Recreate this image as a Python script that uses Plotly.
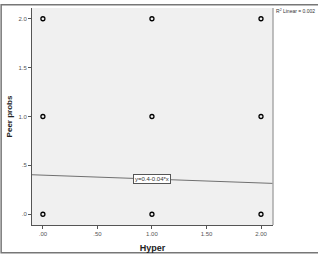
import plotly.graph_objects as go

hyper = [0, 1, 2, 0, 1, 2, 0, 1, 2]
peer_probs = [0, 0, 0, 1, 1, 1, 2, 2, 2]
fit_x = [-0.1, 2.11]
intercept = 0.4
slope = -0.04
x_ticks = [0, 0.5, 1, 1.5, 2]
x_tick_labels = [".00", ".50", "1.00", "1.50", "2.00"]
y_ticks = [0, 0.5, 1, 1.5, 2]
y_tick_labels = [".0", ".5", "1.0", "1.5", "2.0"]

fit_y = [intercept + slope * x for x in fit_x]

fig = go.Figure()
fig.add_trace(go.Scatter(x=fit_x, y=fit_y, mode="lines",
                         line=dict(color="#707070", width=1), hoverinfo="skip"))
fig.add_trace(go.Scatter(x=hyper, y=peer_probs, mode="markers",
                         marker=dict(symbol="circle-open", size=4, color="black",
                                     line=dict(width=1.3, color="black"))))

fig.add_annotation(x=1, y=intercept + slope * 1, text="y=0.4-0.04*x", showarrow=False,
                   font=dict(family="Liberation Sans", size=6, color="#333"),
                   bgcolor="white", bordercolor="#555", borderwidth=1, borderpad=1)
fig.add_annotation(xref="paper", yref="paper", x=1.003, y=0.985, xanchor="left", yanchor="middle",
                   text="R<sup>2</sup> Linear = 0.002", showarrow=False,
                   font=dict(family="Liberation Sans", size=5, color="#333"))

fig.add_shape(type="rect", xref="paper", yref="paper", x0=-0.128, x1=1.19, y0=-0.128, y1=1.015,
              line=dict(color="#777", width=1.5), layer="below")

fig.update_layout(
    width=318, height=260,
    margin=dict(l=32, r=45, t=8, b=31),
    paper_bgcolor="white", plot_bgcolor="#f0f0f0",
    showlegend=False,
    font=dict(family="Liberation Sans", size=6, color="#555"),
)
fig.update_xaxes(range=[-0.1, 2.11], tickvals=x_ticks, ticktext=x_tick_labels,
                 showgrid=False, zeroline=False, showline=True, linecolor="#555", linewidth=1,
                 mirror=False, ticks="outside", ticklen=3, tickcolor="#555",
                 title=dict(text="<b>Hyper</b>", font=dict(size=9, color="#222"), standoff=8))
fig.update_yaxes(range=[-0.11, 2.11], tickvals=y_ticks, ticktext=y_tick_labels,
                 showgrid=False, zeroline=False, showline=True, linecolor="#555", linewidth=1,
                 ticks="outside", ticklen=3, tickcolor="#555",
                 title=dict(text="<b>Peer probs</b>", font=dict(size=8, color="#222"), standoff=4))
fig.add_shape(type="line", xref="paper", yref="paper", x0=1, x1=1, y0=0, y1=1,
              line=dict(color="#aaa", width=1.5))

fig.write_html("out.html")
